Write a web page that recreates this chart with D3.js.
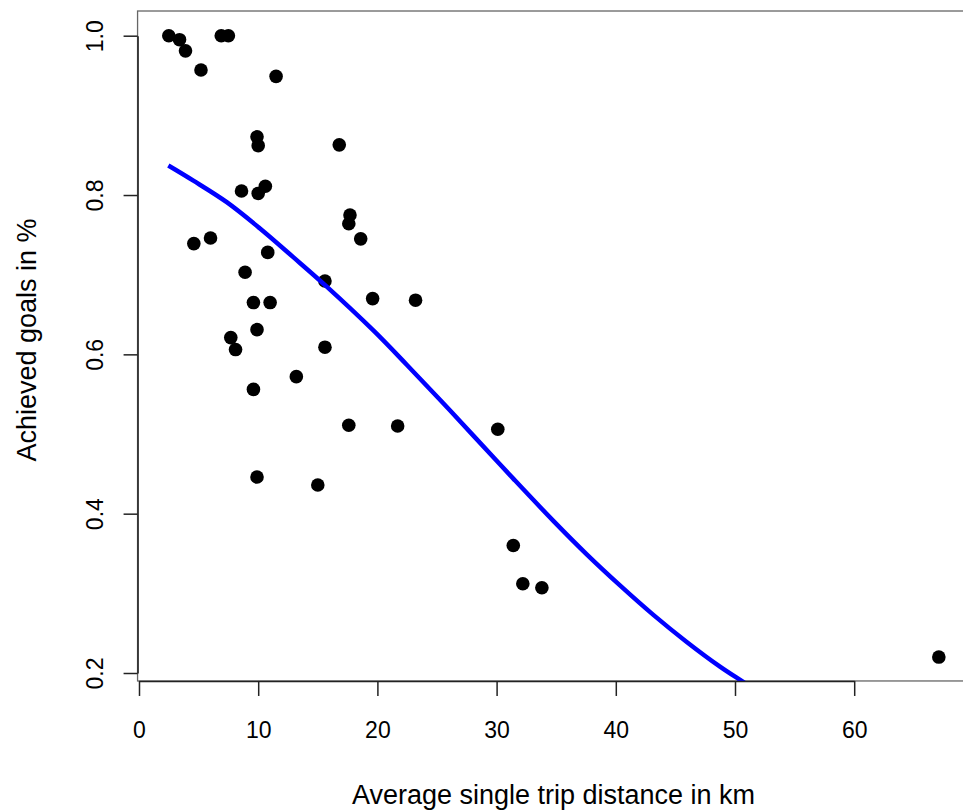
<!DOCTYPE html>
<html>
  <head lang="en">
    <meta charset="utf-8">
    <title>Achieved goals vs trip distance</title>
    <script type="text/javascript" src="https://cdn.jsdelivr.net/npm/d3@7"></script>
    <style>
      body { margin: 0; background: #ffffff; }
      text { font-family: "Liberation Sans", Arial, Helvetica, sans-serif; fill: #000; }
    </style>
  </head>
  <body>
    <script type="text/javascript">

      // average single trip distance (km) per observation
      var distance = [2.5, 3.4, 3.9, 5.2, 6.9, 7.5, 11.5, 9.9, 10.0, 16.8,
                      8.6, 10.0, 10.6, 4.6, 6.0, 17.7, 17.6, 18.6, 10.8, 8.9,
                      15.6, 19.6, 23.2, 9.6, 11.0, 9.9, 7.7, 8.1, 15.6, 13.2,
                      9.6, 17.6, 21.7, 30.1, 9.9, 15.0, 31.4, 32.2, 33.8, 67.1];

      // achieved goals share per observation
      var achieved = [1.0, 0.995, 0.981, 0.957, 1.0, 1.0, 0.949, 0.873, 0.862, 0.863,
                      0.805, 0.802, 0.811, 0.739, 0.746, 0.775, 0.764, 0.745, 0.728, 0.703,
                      0.692, 0.670, 0.668, 0.665, 0.665, 0.631, 0.621, 0.606, 0.609, 0.572,
                      0.556, 0.511, 0.510, 0.506, 0.446, 0.436, 0.360, 0.312, 0.307, 0.220];

      // fitted curve
      var fitDistance = [2.46, 4.56, 7.36, 10.15, 12.94, 15.75, 19.66, 22.46, 25.25,
                         28.05, 31.40, 34.76, 37.56, 40.35, 43.15, 45.95, 48.74, 50.56, 52.0];
      var fitAchieved = [0.837, 0.818, 0.791, 0.758, 0.722, 0.685, 0.630, 0.587, 0.543,
                         0.498, 0.444, 0.391, 0.349, 0.310, 0.273, 0.239, 0.208, 0.190, 0.176];

      // tick labels
      var xTicks = [0, 10, 20, 30, 40, 50, 60];
      var yTicks = [0.2, 0.4, 0.6, 0.8, 1.0];

      var width = 963;
      var height = 812;

      var svg = d3.select("body")
                  .append("svg")
                  .attr("width", width)
                  .attr("height", height);

      // scales (plot region runs off the right edge like the original)
      var x_scale = d3.scaleLinear()
          .domain([0, 60])
          .range([139, 854.2]);

      var y_scale = d3.scaleLinear()
          .domain([0.2, 1.0])
          .range([673, 35.7]);

      var boxLeft = x_scale(-0.12);
      var boxTop = y_scale(1.031);
      var boxBottom = y_scale(0.19);

      // clip to plot region
      svg.append("clipPath")
          .attr("id", "plotclip")
          .append("rect")
          .attr("x", boxLeft)
          .attr("y", boxTop)
          .attr("width", width - boxLeft + 20)
          .attr("height", boxBottom - boxTop);

      // box around plot
      svg.append("rect")
          .attr("x", boxLeft)
          .attr("y", boxTop)
          .attr("width", width - boxLeft + 20)
          .attr("height", boxBottom - boxTop)
          .attr("fill", "none")
          .attr("stroke", "#666")
          .attr("stroke-width", 1.3);

      // points
      var points = distance.map(function(d, i) {
        return {x: d, y: achieved[i]};
      });

      svg.append("g")
          .attr("clip-path", "url(#plotclip)")
          .selectAll("circle")
          .data(points)
          .enter()
          .append("circle")
          .attr("cx", function(d) { return x_scale(d.x); })
          .attr("cy", function(d) { return y_scale(d.y); })
          .attr("r", 6.8)
          .attr("fill", "#000");

      // fitted line
      var fit = fitDistance.map(function(d, i) {
        return [d, fitAchieved[i]];
      });

      var line = d3.line()
          .x(function(d) { return x_scale(d[0]); })
          .y(function(d) { return y_scale(d[1]); })
          .curve(d3.curveCatmullRom);

      svg.append("path")
          .datum(fit)
          .attr("clip-path", "url(#plotclip)")
          .attr("d", line)
          .attr("fill", "none")
          .attr("stroke", "#0000ff")
          .attr("stroke-width", 4.5);

      // x axis
      var xAxis = svg.append("g")
          .attr("transform", "translate(0," + boxBottom + ")")
          .call(d3.axisBottom(x_scale)
                .tickValues(xTicks)
                .tickSize(15)
                .tickPadding(26)
                .tickSizeOuter(0)
                .tickFormat(d3.format("d")));

      // y axis
      var yAxis = svg.append("g")
          .attr("transform", "translate(" + boxLeft + ",0)")
          .call(d3.axisLeft(y_scale)
                .tickValues(yTicks)
                .tickSize(14)
                .tickSizeOuter(0)
                .tickFormat(d3.format(".1f")));

      // style axes like base R
      svg.selectAll(".domain").attr("stroke", "#222").attr("stroke-width", 1.5);
      svg.selectAll(".tick line").attr("stroke", "#222").attr("stroke-width", 1.5);

      xAxis.selectAll("text")
          .attr("font-size", 23)
          .attr("fill", "#000")
          .attr("font-family", "Liberation Sans, Arial, sans-serif");

      // rotated y tick labels
      yAxis.selectAll(".tick text")
          .attr("font-size", 23)
          .attr("fill", "#000")
          .attr("font-family", "Liberation Sans, Arial, sans-serif")
          .attr("x", null)
          .attr("dy", null)
          .attr("text-anchor", "middle")
          .attr("transform", "translate(-35,0) rotate(-90)");

      // axis titles
      svg.append("text")
          .attr("x", (351 + 756) / 2)
          .attr("y", 804)
          .attr("text-anchor", "middle")
          .attr("font-size", 27)
          .text("Average single trip distance in km");

      svg.append("text")
          .attr("transform", "translate(36,340) rotate(-90)")
          .attr("text-anchor", "middle")
          .attr("font-size", 27)
          .text("Achieved goals in %");

    </script>
  </body>
</html>
